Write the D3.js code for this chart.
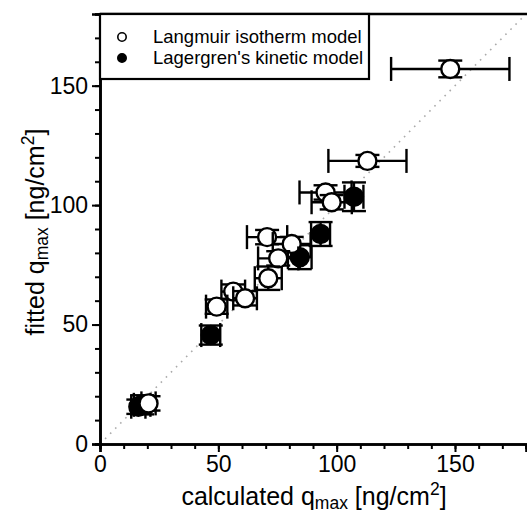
<!DOCTYPE html>
<html>
<head>
<meta charset="utf-8">
<script src="https://cdn.jsdelivr.net/npm/d3@7"></script>
<style>
  html, body { margin: 0; padding: 0; background: #fff; }
  svg { display: block; font-family: "Liberation Sans", Arial, Helvetica, sans-serif; }
</style>
</head>
<body>
<script>
// Langmuir isotherm model (open circles)
const langX    = [148, 113, 95.3, 97.9, 70.6, 81, 75.3, 71.1, 56.3, 61.3, 49.3, 20.5];
const langY    = [157, 118.5, 105.3, 101.2, 86.6, 83.7, 77.7, 69.4, 63.8, 61, 57.5, 17];
const langXErr = [25, 16.5, 11, 8.5, 8.5, 8, 8.5, 5.7, 5, 5, 4.5, 3];
const langYErr = [3.5, 2.5, 3, 3, 3, 3, 3, 4.9, 3, 3, 3, 3];

// Lagergren's kinetic model (filled circles)
const lagX    = [107.3, 93.2, 84.4, 46.8, 16.2, 17.8];
const lagY    = [103.5, 87.9, 78.2, 45.6, 15.6, 16.4];
const lagXErr = [4, 4, 5, 4, 3, 3.5];
const lagYErr = [6, 5, 5, 4, 3, 4];

const xTicks = [0, 50, 100, 150];
const yTicks = [0, 50, 100, 150];
const legendLabels = ["Langmuir isotherm model", "Lagergren's kinetic model"];

const width = 527, height = 513;
const margin = {left: 100, top: 14, right: 1, bottom: 69};

const x = d3.scaleLinear().domain([0, 180]).range([margin.left, 526]);
const y = d3.scaleLinear().domain([0, 180]).range([height - margin.bottom, margin.top]);

const svg = d3.select("body").append("svg")
  .attr("width", width).attr("height", height);

// identity line
svg.append("line")
  .attr("x1", x(0)).attr("y1", y(0))
  .attr("x2", x(180)).attr("y2", y(180))
  .attr("stroke", "#aaa").attr("stroke-width", 1.6)
  .attr("stroke-dasharray", "1.6,5.6");

const minor = d3.range(0, 181, 10);

function drawAxes() {
  const xAxis = svg.append("g").attr("transform", `translate(0,${y(0)})`);
  xAxis.call(d3.axisBottom(x).tickValues(minor).tickSize(5).tickFormat(""));
  xAxis.call(g => g.append("g").call(d3.axisBottom(x).tickValues(xTicks).tickSize(8).tickPadding(4)));
  xAxis.selectAll(".domain").attr("stroke-width", 2.6);
  xAxis.selectAll(".tick line").attr("stroke-width", 2);
  xAxis.selectAll("text").attr("font-size", 23).attr("fill", "#000")
    .attr("font-family", "Liberation Sans, Arial, sans-serif");

  const yAxis = svg.append("g").attr("transform", `translate(${x(0)},0)`);
  yAxis.call(d3.axisLeft(y).tickValues(minor).tickSize(5).tickFormat(""));
  yAxis.call(g => g.append("g").call(d3.axisLeft(y).tickValues(yTicks).tickSize(8).tickPadding(4)));
  yAxis.selectAll(".domain").attr("stroke-width", 2.6);
  yAxis.selectAll(".tick line").attr("stroke-width", 2);
  yAxis.selectAll("text").attr("font-size", 23).attr("fill", "#000")
    .attr("font-family", "Liberation Sans, Arial, sans-serif");

  // top frame
  svg.append("line")
    .attr("x1", x(0)).attr("x2", width + 5)
    .attr("y1", y(180)).attr("y2", y(180))
    .attr("stroke", "#000").attr("stroke-width", 2.6);
}

const cap = 12, r = 9;

function drawSeries(xs, ys, xe, ye, filled) {
  const data = xs.map((d, i) => ({x: d, y: ys[i], xe: xe[i], ye: ye[i]}));
  const g = svg.append("g").attr("stroke", "#000").attr("stroke-width", 2.4);
  data.forEach(d => {
    const eg = g.append("g");
    eg.append("line").attr("x1", x(d.x - d.xe)).attr("x2", x(d.x + d.xe))
      .attr("y1", y(d.y)).attr("y2", y(d.y));
    eg.append("line").attr("x1", x(d.x)).attr("x2", x(d.x))
      .attr("y1", y(d.y - d.ye)).attr("y2", y(d.y + d.ye));
    [d.x - d.xe, d.x + d.xe].forEach(v => eg.append("line")
      .attr("x1", x(v)).attr("x2", x(v))
      .attr("y1", y(d.y) - cap).attr("y2", y(d.y) + cap));
    [d.y - d.ye, d.y + d.ye].forEach(v => eg.append("line")
      .attr("x1", x(d.x) - cap).attr("x2", x(d.x) + cap)
      .attr("y1", y(v)).attr("y2", y(v)));
    eg.append("circle").attr("cx", x(d.x)).attr("cy", y(d.y)).attr("r", r)
      .attr("fill", filled ? "#000" : "#fff");
  });
}

drawSeries(lagX, lagY, lagXErr, lagYErr, true);
drawSeries(langX, langY, langXErr, langYErr, false);
drawAxes();

// legend
const lg = svg.append("g");
lg.append("rect").attr("x", x(0)).attr("y", y(180)).attr("width", 269).attr("height", 65)
  .attr("fill", "#fff").attr("stroke", "#000").attr("stroke-width", 2.2);
legendLabels.forEach((t, i) => {
  const cy = 37 + i * 21;
  lg.append("circle").attr("cx", 122).attr("cy", cy).attr("r", 4.2)
    .attr("fill", i ? "#000" : "#fff").attr("stroke", "#000").attr("stroke-width", 1.6);
  lg.append("text").attr("x", 153).attr("y", cy + 6).attr("font-size", 18.5).text(t);
});

// axis titles (q_max with subscript, cm^2 with superscript)
function qTitle(sel, lead) {
  sel.attr("text-anchor", "middle").attr("font-size", 25);
  sel.append("tspan").text(lead + " q");
  sel.append("tspan").attr("font-size", 17.5).attr("dy", 4).text("max");
  sel.append("tspan").attr("dy", -4).text(" [ng/cm");
  sel.append("tspan").attr("font-size", 17.5).attr("dy", -10).text("2");
  sel.append("tspan").attr("dy", 10).text("]");
}
qTitle(svg.append("text").attr("x", 314).attr("y", 505), "calculated");
qTitle(svg.append("text").attr("transform", "translate(44,232) rotate(-90)"), "fitted");
</script>
</body>
</html>
